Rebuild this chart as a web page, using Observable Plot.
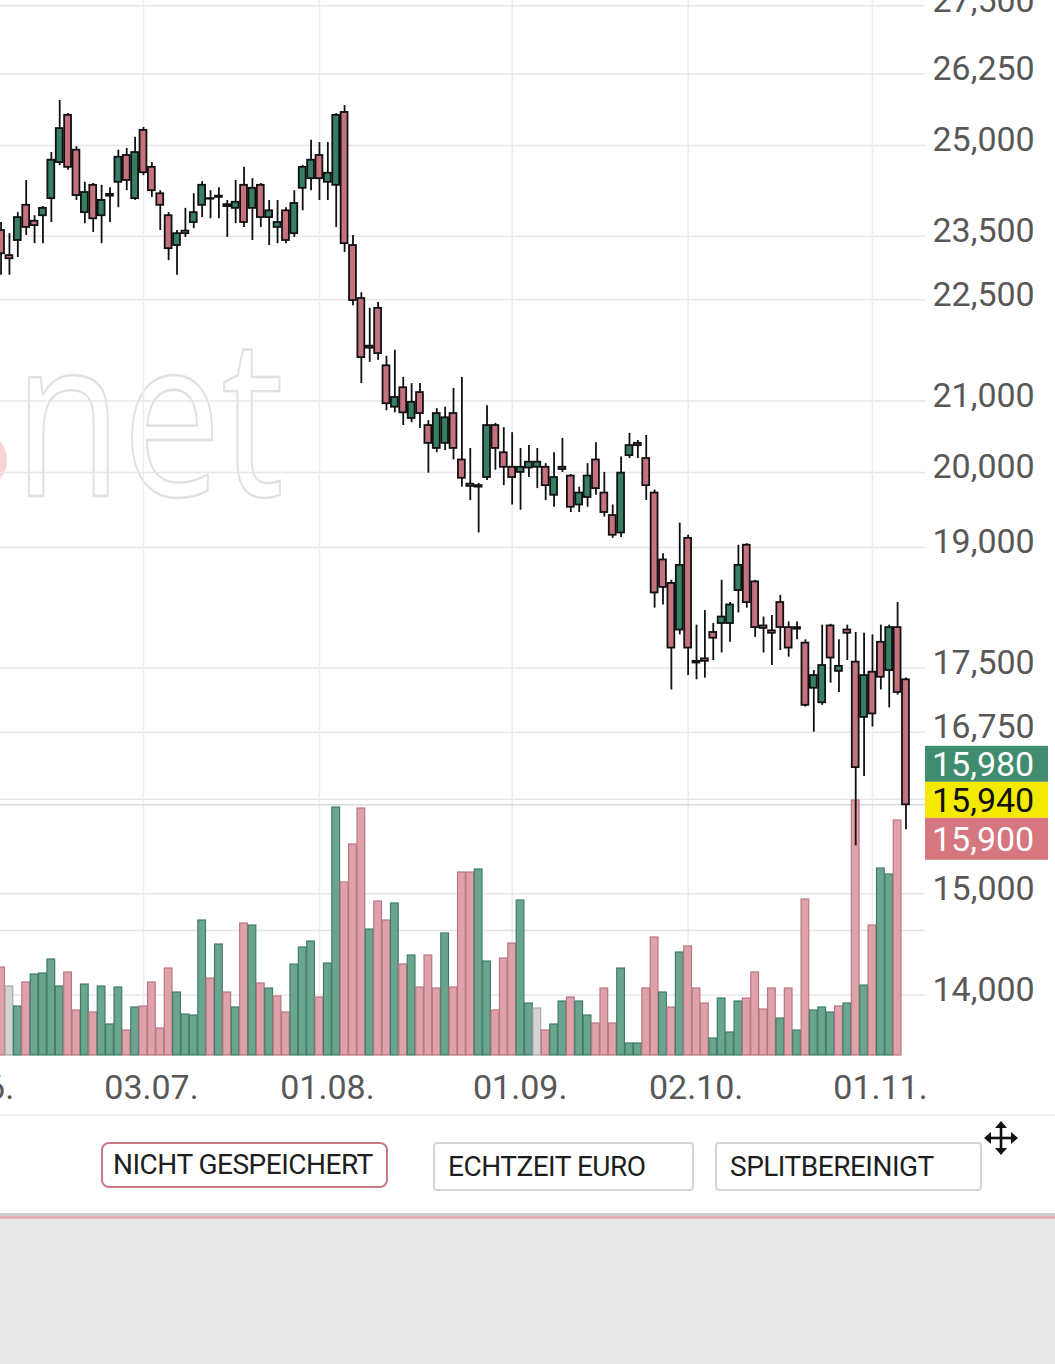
<!DOCTYPE html>
<html><head><meta charset="utf-8">
<script src="https://cdn.jsdelivr.net/npm/d3@7"></script>
<script src="https://cdn.jsdelivr.net/npm/@observablehq/plot@0.6"></script>
<style>
html,body{margin:0;padding:0;background:#e9e9e9;}
#panel{position:absolute;left:0;top:0;width:1055px;height:1213px;background:#fff;overflow:hidden;}
#chart{position:absolute;left:0;top:0;}
.sep{position:absolute;left:0;top:1114px;width:1055px;height:2px;background:#efefef;}
.btn{position:absolute;top:1142px;height:46px;box-sizing:border-box;border:2px solid #d5d5d5;border-radius:4px;
 font-family:Roboto,sans-serif;font-size:28px;letter-spacing:-0.5px;color:#1e1e1e;line-height:42px;padding-left:10px;white-space:nowrap;background:#fff;}
.b1{left:101px;width:287px;border-color:#c97b85;border-radius:8px;}
.b2{left:433px;width:261px;height:49px;line-height:45px;padding-left:13px;}
.b3{left:715px;width:267px;height:49px;line-height:45px;padding-left:13px;}
.move{position:absolute;left:983px;top:1120px;}
.l1{position:absolute;left:0;top:1213px;width:1055px;height:3px;background:#cdcdcd;}
.l2{position:absolute;left:0;top:1216px;width:1055px;height:3px;background:#e6b3b8;}
</style></head>
<body>
<div id="panel">
  <div id="chart"></div>
  <div class="sep"></div>
  <div class="btn b1">NICHT GESPEICHERT</div>
  <div class="btn b2">ECHTZEIT EURO</div>
  <div class="btn b3">SPLITBEREINIGT</div>
  <svg class="move" width="36" height="36" viewBox="0 0 36 36">
    <g stroke="#111" stroke-width="2.6" fill="#111">
      <line x1="18" y1="5" x2="18" y2="31"/><line x1="5" y1="18" x2="31" y2="18"/>
      <path d="M18 1 L12 8 L24 8 Z" stroke="none"/><path d="M18 35 L12 28 L24 28 Z" stroke="none"/>
      <path d="M1 18 L8 12 L8 24 Z" stroke="none"/><path d="M35 18 L28 12 L28 24 Z" stroke="none"/>
    </g>
  </svg>
</div>
<div class="l1"></div><div class="l2"></div>
<script>
// ---------- data (daily candles, 08.06. – 07.11.) ----------
const firstDate = "2023-06-08";
const open = [23590,23190,23430,24000,23740,23830,24110,24710,25520,24920,23880,24330,23830,24180,24380,24830,24110,
25260,24630,24190,23830,23350,23580,23720,24000,24110,24150,
24010,23950,24330,23950,24330,23800,23640,23910,23540,24280,
24440,24830,24380,24330,25570,23350,22520,21800,22370,21510,
20910,21190,20750,21120,20650,20330,20400,20820,20170,19840,
19820,19930,20650,20270,20070,20000,20060,20070,20070,19690,
20070,19950,19560,19660,20170,19720,19420,19190,20230,20400,
20190,19720,18840,18540,17960,19120,17580,17610,17930,18040,
18040,18450,19030,18560,18010,17950,18300,17990,17970,17800,
17260,17090,18010,17460,17960,17570,16920,17450,17810,17470,
17990,17360];
const high = [23720,23540,23880,24410,23830,23980,24880,25780,25550,24980,24380,24360,24330,24290,24920,24950,25140,
25310,24710,24240,23880,23590,23950,24190,24390,24240,24290,
24080,24410,24630,24440,24360,24080,24080,23960,24240,24660,
25090,25050,25050,25550,25690,23510,22610,22370,22460,21650,
21740,21340,21250,21250,20720,20890,20910,21180,21340,20330,
19850,20930,20680,20620,20550,20330,20370,20330,20120,20270,
20470,19970,19800,20120,20410,20000,19560,20210,20540,20440,
20510,19760,18920,18580,19320,19160,18020,18200,18040,18580,
18300,19030,19050,18580,18120,18140,18390,18060,18060,17840,
17470,18020,18030,17840,18020,17930,17920,17900,18020,18020,
18300,17380];
const low = [22880,22880,23160,23510,23380,23380,23720,24660,24580,24080,23700,23560,23380,23720,23960,24240,24080,
24490,24130,23590,23110,22880,23480,23620,23800,23780,23780,
23480,23700,23640,23430,23640,23350,23380,23380,23480,23910,
24240,24080,24080,23640,23240,22410,21250,21560,21590,20860,
20830,20650,20690,20610,19990,20270,20300,20170,19800,19620,
19190,19890,20030,19820,19560,19490,19930,19780,19620,19530,
20000,19460,19460,19530,19690,19400,19120,19130,20190,20190,
19620,18230,18270,17240,17900,17410,17360,17380,17590,17680,
17810,18170,18230,17870,17680,17530,17710,17630,17840,17040,
16750,17060,17320,17210,17590,15500,16250,16810,17240,17030,
17180,15670];
const close = [23220,23140,23800,23640,23670,23950,24750,25290,24630,24160,24210,23780,24080,24150,24800,24410,24880,
24540,24240,24000,23300,23540,23540,23880,24330,24100,24130,
23980,24050,23720,24280,23800,23910,23720,23430,24030,24630,
24750,24440,24530,25520,23380,22490,21630,21770,21690,20960,
21050,20830,20980,20820,20400,20820,20760,20330,19920,19810,
19800,20650,20330,20070,19930,20070,20140,20140,19820,19930,
20040,19530,19720,19950,19780,19460,19160,19990,20370,20370,
19820,18420,18490,17740,18770,17740,17560,17580,17860,18120,
18270,18770,18300,17990,17980,17920,17990,17740,17990,17060,
17410,17530,17620,17520,17920,16350,17410,16960,17390,17990,
17210,15940];
const volume = [176,138,98,146,162,164,192,138,166,90,142,86,138,62,136,50,96,
98,146,54,174,126,82,80,270,154,222,
126,96,264,260,144,134,118,86,182,216,
228,116,184,496,346,422,494,252,308,270,
304,182,200,136,200,134,244,136,366,366,
372,188,90,194,224,310,104,94,50,62,
108,116,108,80,64,134,64,174,24,24,
134,236,126,96,206,218,134,104,34,114,
46,108,114,166,92,134,74,134,50,312,
90,96,86,98,104,510,140,260,374,362,
470,0];
const volumeDir = ("rngrggggrrgrgggrg" + "rrrrggggrg" + "rgrgrgrrgg" + "grggrrrgrr" + "grgrrrgrrr" +
  "ggrrrggnrg" + "grggrrrggg" + "rrgrgrrrgg" + "ggrrrrgrgr" + "gggrgrgrgg" + "rr").split("");
const yTicks = [27500,26250,25000,23500,22500,21000,20000,19000,17500,16750,16000,15000,14000];
const yLabels = [27500,26250,25000,23500,22500,21000,20000,19000,17500,16750,15000,14000];
const xTickDates = ["2023-06-01","2023-07-03","2023-08-01","2023-09-01","2023-10-02","2023-11-01"];
const quoteValues = [15980, 15940, 15900];   // Geld / Letzter / Brief
const lastPrice = 15940;

// ---------- trading-day axis ----------
const days = [];
for (let d = new Date(Date.UTC(2023,5,1)); d <= new Date(Date.UTC(2023,10,7)); d.setUTCDate(d.getUTCDate()+1)) {
  const wd = d.getUTCDay();
  if (wd > 0 && wd < 6) days.push(d.toISOString().slice(0,10));
}
const start = days.indexOf(firstDate);
const candles = open.map((o,k) => ({i: start+k, o, h: high[k], l: low[k], c: close[k], v: volume[k], vd: volumeDir[k]}));
const xTicks = xTickDates.map(d => days.indexOf(d));
const fmtDate = i => { const s = days[i]; return s.slice(8,10) + "." + s.slice(5,7) + "."; };

const GREEN = "#367f62", RED = "#c4737e";
const volFill = {g: "#5f9d85", r: "#dc9aa3", n: "#cfcfcf"};
const volStroke = {g: "#3f7e66", r: "#bb7681", n: "#a9a9a9"};

const W = 1055, H = 1118, PB = 1055;
const xDomain = [4.934, 115.33];
const common = {width: W, height: H, marginLeft: 0, marginRight: 130, marginTop: 0, marginBottom: H - PB};

const chart = Plot.plot({
  ...common,
  style: {fontFamily: "Roboto, sans-serif", fontSize: "34px", color: "#585858", background: "transparent", overflow: "visible"},
  x: {type: "linear", domain: xDomain, label: null},
  y: {type: "log", domain: [13433, 27601], label: null},
  marks: [
    Plot.gridY(yTicks, {stroke: "#e7e7e7", strokeOpacity: 1, strokeWidth: 1.5}),
    Plot.gridX(xTicks, {stroke: "#ececec", strokeOpacity: 1, strokeWidth: 1.5}),
    Plot.ruleY([lastPrice], {stroke: "#d9d9d9", strokeWidth: 1.5}),
    Plot.axisY(yLabels, {anchor: "right", label: null, tickSize: 0, tickPadding: 7, dy: -5, tickFormat: d3.format(","), fontSize: 34}),
    Plot.axisX(xTicks, {anchor: "bottom", label: null, tickSize: 0, tickPadding: 19, dx: 8, tickFormat: fmtDate, fontSize: 34}),
    Plot.ruleX(candles, {x: "i", y1: "l", y2: "h", stroke: "#111", strokeWidth: 1.8}),
    Plot.rect(candles, {x1: d => d.i - 0.41, x2: d => d.i + 0.41, y1: "o", y2: "c",
      fill: d => d.c >= d.o ? GREEN : RED, stroke: "#111", strokeWidth: 1.8})
  ]
});

const volPlot = Plot.plot({
  ...common,
  x: {type: "linear", domain: xDomain, axis: null},
  y: {domain: [0, 510], range: [PB, PB - 255], axis: null},
  marks: [
    Plot.ruleY([250], {stroke: "#e3e3e3", strokeWidth: 1.5}),
    Plot.rect(candles.filter(d => d.v > 0), {x1: d => d.i - 0.46, x2: d => d.i + 0.46, y1: 0, y2: "v",
      fill: d => volFill[d.vd], stroke: d => volStroke[d.vd], strokeWidth: 1.2, fillOpacity: 0.92})
  ]
});

const rules = chart.querySelectorAll('g[aria-label="rule"]');
const wicks = rules[rules.length - 1];
const vGrid = volPlot.querySelector('g[aria-label="rule"]');
const vBars = volPlot.querySelector('g[aria-label="rect"]');
if (wicks && vGrid) chart.insertBefore(vGrid, wicks);
if (wicks && vBars) chart.insertBefore(vBars, wicks);

const svg = d3.select(chart);
// watermark
const firstGrid = chart.querySelector('g[aria-label="y-grid"]') || chart.querySelector("g");
const wm = d3.select(chart.insertBefore(document.createElementNS("http://www.w3.org/2000/svg", "g"), firstGrid));
wm.append("circle").attr("cx", -22).attr("cy", 460).attr("r", 29).attr("fill", "#f6c9cc").attr("opacity", 0.8);
wm.append("text").attr("x", 14).attr("y", 496).attr("text-anchor", "start")
  .attr("textLength", 270).attr("lengthAdjust", "spacingAndGlyphs")
  .attr("font-family", "Open Sans, sans-serif").attr("font-size", 222).attr("font-weight", 400)
  .attr("fill", "none").attr("stroke", "#e1e1e1").attr("stroke-width", 2.4).text("net");

// quote boxes at the right axis
const yl = chart.scale("y").apply(lastPrice);
const boxes = [
  {v: quoteValues[0], bg: "#3f8c6e", fg: "#ffffff", top: yl - 58.5, h: 36},
  {v: quoteValues[1], bg: "#f3ea00", fg: "#111111", top: yl - 22.5, h: 36},
  {v: quoteValues[2], bg: "#d6777f", fg: "#ffffff", top: yl + 13.5, h: 42}
];
const qb = svg.append("g").attr("text-anchor", "start");
boxes.forEach(b => {
  qb.append("rect").attr("x", 925).attr("y", b.top).attr("width", 123).attr("height", b.h).attr("fill", b.bg);
  qb.append("text").attr("x", 932).attr("y", b.top + b.h/2).attr("dy", "0.36em").attr("fill", b.fg)
    .attr("text-anchor", "start")
    .attr("font-family", "Roboto, sans-serif").attr("font-size", 34).text(d3.format(",")(b.v));
});

document.getElementById("chart").appendChild(chart);
</script>
</body></html>
